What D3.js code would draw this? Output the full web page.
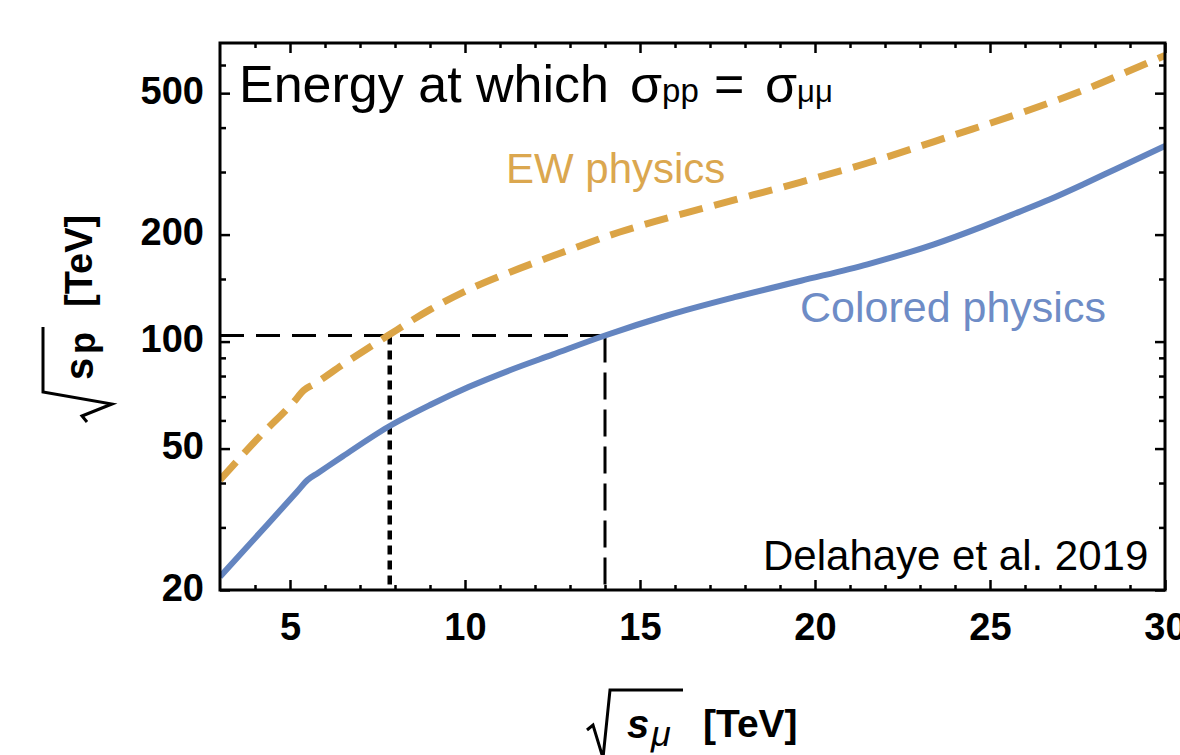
<!DOCTYPE html>
<html>
<head>
<meta charset="utf-8">
<script src="https://cdn.jsdelivr.net/npm/d3@7"></script>
<style>
  html, body { margin: 0; padding: 0; background: #ffffff; }
  svg { display: block; }
  text { font-family: "Liberation Sans", Arial, Helvetica, sans-serif; }
</style>
</head>
<body>
<svg id="chart" width="1180" height="755"></svg>
<script>
// ---- data (sqrt(s_mu) [TeV] -> sqrt(s_p) [TeV]) ----
const coloredX = [3, 4.2, 5.2, 5.5, 5.8, 6.5, 7.8, 9, 10.1, 11.3, 12.5, 14, 15.8, 17.7, 19.6, 21.5, 23.4, 24.8, 25.8, 26.7, 27.7, 28.6, 30];
const coloredY = [21.8, 29.4, 37.8, 40.8, 42.7, 47.5, 57.5, 66.3, 74.5, 83.2, 91.9, 104, 118.6, 133.3, 148.3, 165, 187.8, 211, 231, 251, 278, 306, 355];

const ewX = [3, 4.2, 5.1, 5.4, 5.7, 6.5, 7.8, 9, 10.1, 11.3, 12.5, 14.4, 17, 19.6, 21.5, 24, 26, 27.7, 29.5, 30];
const ewY = [40.8, 54.9, 67.5, 73, 76, 86, 104, 123, 140, 157, 174, 203, 240, 281, 318, 382, 444, 511, 608, 638];

// reference annotation: level and the two crossing energies
const refLevel = 104;
const refEW = 7.85;
const refColored = 14;

const xDomain = [3, 30];
const yDomain = [20, 692];
const xMajor = [5, 10, 15, 20, 25, 30];
const xMinor = [4, 6, 7, 8, 9, 11, 12, 13, 14, 16, 17, 18, 19, 21, 22, 23, 24, 26, 27, 28, 29];
const yMajor = [20, 50, 100, 200, 500];
const yMinor = [30, 40, 60, 70, 80, 90, 150, 300, 400, 600];

// ---- layout ----
const L = 220, R = 1165, T = 43, B = 590;
const svg = d3.select("#chart");
const x = d3.scaleLinear().domain(xDomain).range([L, R]);
const y = d3.scaleLog().domain(yDomain).range([B, T]);

const tickStyle = g => {
  g.select(".domain").remove();
  g.selectAll(".tick line").attr("stroke", "#000").attr("stroke-width", 2.5);
};

// bottom axis
svg.append("g").attr("transform", `translate(0,${B})`)
  .call(d3.axisBottom(x).tickValues(xMajor).tickSize(-10).tickPadding(23).tickFormat(d3.format("d")))
  .call(tickStyle)
  .call(g => g.selectAll("text").attr("font-size", 38).attr("font-weight", "bold").attr("fill", "#000")
     .attr("font-family", '"Liberation Sans", Arial, sans-serif'));
svg.append("g").attr("transform", `translate(0,${B})`)
  .call(d3.axisBottom(x).tickValues(xMinor).tickSize(-5).tickFormat(""))
  .call(tickStyle);
// top axis
svg.append("g").attr("transform", `translate(0,${T})`)
  .call(d3.axisTop(x).tickValues(xMajor).tickSize(-10).tickFormat(""))
  .call(tickStyle);
svg.append("g").attr("transform", `translate(0,${T})`)
  .call(d3.axisTop(x).tickValues(xMinor).tickSize(-5).tickFormat(""))
  .call(tickStyle);
// left axis
svg.append("g").attr("transform", `translate(${L},0)`)
  .call(d3.axisLeft(y).tickValues(yMajor).tickSize(-10).tickPadding(16).tickFormat(d3.format("d")))
  .call(tickStyle)
  .call(g => g.selectAll("text").attr("font-size", 38).attr("font-weight", "bold").attr("fill", "#000")
     .attr("font-family", '"Liberation Sans", Arial, sans-serif').attr("transform", "translate(0,-2)"));
svg.append("g").attr("transform", `translate(${L},0)`)
  .call(d3.axisLeft(y).tickValues(yMinor).tickSize(-6).tickFormat(""))
  .call(tickStyle);
// right axis
svg.append("g").attr("transform", `translate(${R},0)`)
  .call(d3.axisRight(y).tickValues(yMajor).tickSize(-10).tickFormat(""))
  .call(tickStyle);
svg.append("g").attr("transform", `translate(${R},0)`)
  .call(d3.axisRight(y).tickValues(yMinor).tickSize(-6).tickFormat(""))
  .call(tickStyle);

// clip
svg.append("clipPath").attr("id", "plotclip")
  .append("rect").attr("x", L).attr("y", T).attr("width", R - L).attr("height", B - T);
const plot = svg.append("g").attr("clip-path", "url(#plotclip)");

// reference lines
plot.append("line")
  .attr("x1", x(xDomain[0])).attr("x2", x(refColored))
  .attr("y1", y(refLevel)).attr("y2", y(refLevel))
  .attr("stroke", "#000").attr("stroke-width", 3).attr("stroke-dasharray", "24,12");
plot.append("line")
  .attr("x1", x(refEW)).attr("x2", x(refEW))
  .attr("y1", y(refLevel)).attr("y2", y(yDomain[0]))
  .attr("stroke", "#000").attr("stroke-width", 4.5).attr("stroke-dasharray", "9,6");
plot.append("line")
  .attr("x1", x(refColored)).attr("x2", x(refColored))
  .attr("y1", y(refLevel)).attr("y2", y(yDomain[0]))
  .attr("stroke", "#000").attr("stroke-width", 3).attr("stroke-dasharray", "27,10");

// curves
const line = d3.line().x(d => x(d[0])).y(d => y(d[1])).curve(d3.curveMonotoneX);
const ewData = ewX.map((v, i) => [v, ewY[i]]);
const colData = coloredX.map((v, i) => [v, coloredY[i]]);

plot.append("path").datum(colData).attr("d", line)
  .attr("fill", "none").attr("stroke", "#6485c0").attr("stroke-width", 6)
  .attr("stroke-linejoin", "round");
plot.append("path").datum(ewData).attr("d", line)
  .attr("fill", "none").attr("stroke", "#dba446").attr("stroke-width", 7)
  .attr("stroke-dasharray", "24,12");

// frame
svg.append("rect").attr("x", L).attr("y", T).attr("width", R - L).attr("height", B - T)
  .attr("fill", "none").attr("stroke", "#000").attr("stroke-width", 3);

// title
const title = svg.append("text").attr("x", 239).attr("y", 102).attr("font-size", 52).attr("fill", "#000");
title.append("tspan").text("Energy at which");
title.append("tspan").attr("x", 630).text("σ");
title.append("tspan").attr("font-size", 33).text("pp");
title.append("tspan").attr("x", 714).text("=");
title.append("tspan").attr("x", 765).text("σ");
title.append("tspan").attr("font-size", 31).text("μμ");

// series labels
svg.append("text").attr("x", 506).attr("y", 183).attr("font-size", 42).attr("fill", "#dba74f").text("EW physics");
svg.append("text").attr("x", 800).attr("y", 322).attr("font-size", 43).attr("fill", "#6e8cc6").text("Colored physics");
svg.append("text").attr("x", 763).attr("y", 570).attr("font-size", 42).attr("fill", "#000").text("Delahaye et al. 2019");

// x axis label: sqrt(s_mu) [TeV]
svg.append("path").attr("d", "M587,730 L593,725 L603,758 L610,690 L683,690")
  .attr("fill", "none").attr("stroke", "#000").attr("stroke-width", 3).attr("stroke-linejoin", "miter");
svg.append("text").attr("x", 627).attr("y", 738).attr("font-size", 40).attr("font-weight", "bold")
  .attr("font-style", "italic").text("s");
svg.append("text").attr("x", 651).attr("y", 746).attr("font-size", 36).attr("font-style", "italic").text("μ");
svg.append("text").attr("x", 703).attr("y", 737).attr("font-size", 39).attr("font-weight", "bold").text("[TeV]");

// y axis label: sqrt(s_p) [TeV] (rotated)
svg.append("path").attr("d", "M87,422 L82,416 L112,404 L43,392 L43,327")
  .attr("fill", "none").attr("stroke", "#000").attr("stroke-width", 3).attr("stroke-linejoin", "miter");
svg.append("text").attr("transform", "translate(93,380) rotate(-90)").attr("font-size", 40)
  .attr("font-weight", "bold").text("s");
svg.append("text").attr("transform", "translate(95,354) rotate(-90)").attr("font-size", 36)
  .attr("font-weight", "bold").text("p");
svg.append("text").attr("transform", "translate(92,307) rotate(-90)").attr("font-size", 38)
  .attr("font-weight", "bold").text("[TeV]");
</script>
</body>
</html>
